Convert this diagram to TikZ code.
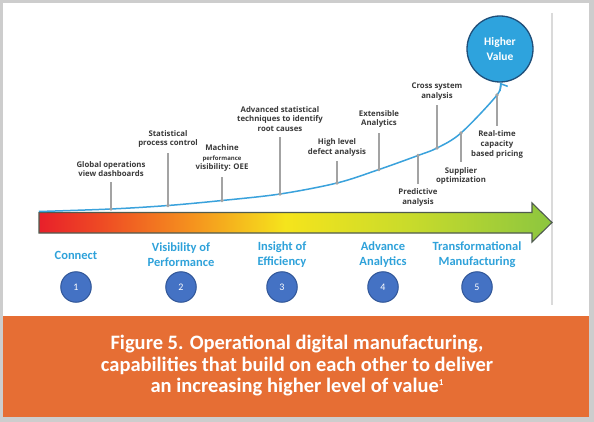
\documentclass[tikz,border=0pt]{standalone}
\usepackage{fontspec}
\setmainfont{Carlito}
\newfontfamily\annfont{Open Sans}
\usetikzlibrary{arrows.meta}
\definecolor{framegray}{HTML}{CDCDCD}
\definecolor{orangeband}{HTML}{E66E34}
\definecolor{anncol}{HTML}{3A3A3A}
\definecolor{leadcol}{HTML}{A3A3A3}
\definecolor{curvecol}{HTML}{3AA2DC}
\definecolor{stagecol}{HTML}{2FA2DA}
\definecolor{numfill}{HTML}{4472C4}
\definecolor{numborder}{HTML}{2F5597}
\definecolor{hvfill}{HTML}{2EA3DD}
\definecolor{hvborder}{HTML}{1F4E79}
\definecolor{arrowline}{HTML}{4F5B4F}
\definecolor{sepline}{HTML}{DADADA}
\definecolor{cRed}{HTML}{E8202A}
\definecolor{cRedOr}{HTML}{EE4A24}
\definecolor{cOrange}{HTML}{F5931E}
\definecolor{cYellow}{HTML}{F5E41C}
\definecolor{cYGreen}{HTML}{C9DB2B}
\definecolor{cGreen}{HTML}{8CC63F}
\pgfdeclarehorizontalshading{arrowshade}{100bp}{color(0bp)=(cRed); color(25bp)=(cRed); color(31bp)=(cRedOr); color(40bp)=(cOrange); color(49bp)=(cYellow); color(61bp)=(cYGreen); color(75bp)=(cGreen); color(100bp)=(cGreen)}
\begin{document}
\begin{tikzpicture}[x=1pt,y=-1pt,
  ann/.style={font=\annfont\bfseries\fontsize{7.8}{9.8}\selectfont, text=anncol, align=center, inner sep=1pt, outer sep=4pt},
  leader/.style={draw=leadcol, line width=1.1pt},
  mdot/.style={circle, fill=leadcol, inner sep=0pt, minimum size=3.6pt},
  stage/.style={font=\bfseries\fontsize{12.5}{15}\selectfont, text=stagecol, align=center},
  numc/.style={circle, draw=numborder, fill=numfill, line width=1pt, minimum size=30.5pt, inner sep=0pt, text=white, font=\fontsize{10}{12}\selectfont},
  curve/.style={draw=curvecol, line width=1.5pt}
]
\useasboundingbox (0,0) rectangle (594,422);
% frame
\fill[framegray] (0,0) rectangle (594,422);
\fill[white] (3,3) rectangle (589,316);
\fill[orangeband] (3,316) rectangle (589,417);
\draw[sepline, line width=1.6pt] (552,13) -- (552,305);

% big arrow
\shade[shading=arrowshade, draw=arrowline, line width=1.1pt]
  (39,212.5) -- (532,212.5) -- (532,203) -- (552,222.5) -- (532,242) -- (532,233) -- (39,233) -- cycle;

% higher value circle
\node[circle, fill=hvfill, draw=hvborder, line width=1.3pt, minimum size=66pt, inner sep=0pt,
      text=white, font=\bfseries\fontsize{11.5}{14.5}\selectfont, align=center] (hv) at (500,49) {Higher\\Value};

% curve points
\coordinate (p0) at (39,211.5);
\coordinate (p1) at (111,209);
\coordinate (p2) at (168,205.5);
\coordinate (p3) at (222,200.5);
\coordinate (p4) at (280,194);
\coordinate (p5) at (337,183);
\coordinate (p6) at (379,169.5);
\coordinate (p7) at (418,155.5);
\coordinate (p8) at (437,148);
\coordinate (p9) at (461,133);
\coordinate (p10) at (497,95);

% labels
\node[ann] (a1) at (111,169) {Global operations\\view dashboards};
\node[ann] (a2) at (168,139) {Statistical\\process control};
\node[ann] (a3) at (222,158) {Machine\\{\fontsize{6}{7}\selectfont performance}\\visibility: OEE};
\node[ann] (a4) at (280,119) {Advanced statistical\\techniques to identify\\root causes};
\node[ann] (a5) at (337,147.5) {High level\\defect analysis};
\node[ann] (a6) at (379,119) {Extensible\\Analytics};
\node[ann] (a7) at (418,197.5) {Predictive\\analysis};
\node[ann] (a8) at (437,91.5) {Cross system\\analysis};
\node[ann] (a9) at (461,176) {Supplier\\optimization};
\node[ann] (a10) at (497,144.5) {Real-time\\capacity\\based pricing};

% leaders
\draw[leader] (p1) -- (a1.south);
\draw[leader] (p2) -- (a2.south);
\draw[leader] (p3) -- (a3.south);
\draw[leader] (p4) -- (a4.south);
\draw[leader] (p5) -- (a5.south);
\draw[leader] (p6) -- (a6.south);
\draw[leader] (p7) -- (a7.north);
\draw[leader] (p8) -- (a8.south);
\draw[leader] (p9) -- (a9.north);
\draw[leader] (p10) -- (a10.north);

% curve
\draw[curve, -{Straight Barb[length=6pt,width=9pt]}] plot[smooth, tension=0.55] coordinates {(p0) (p1) (p2) (p3) (p4) (p5) (p6) (p7) (p8) (p9) (p10) (hv.south)};

% marker dots
\foreach \i in {1,...,10} {\node[mdot] (m\i) at (p\i) {};}

% stages
\node[stage] (s1) at (76,255) {Connect};
\node[stage] (s2) at (181,254.5) {Visibility of\\Performance};
\node[stage] (s3) at (282,254.5) {Insight of\\Efficiency};
\node[stage] (s4) at (383,254.5) {Advance\\Analytics};
\node[stage] (s5) at (477,254.5) {Transformational\\Manufacturing};

\node[numc] (n1) at (76,287) {1};
\node[numc] (n2) at (181,287) {2};
\node[numc] (n3) at (282,287) {3};
\node[numc] (n4) at (383,287) {4};
\node[numc] (n5) at (477,287) {5};

% caption
\node[text=white, font=\bfseries\fontsize{20.5}{21.5}\selectfont, align=center] (cap) at (297,366)
  {Figure 5. Operational digital manufacturing,\\capabilities that build on each other to deliver\\an increasing higher level of value\raisebox{0.75ex}{\fontsize{9}{9}\selectfont 1}};
\end{tikzpicture}
\end{document}
